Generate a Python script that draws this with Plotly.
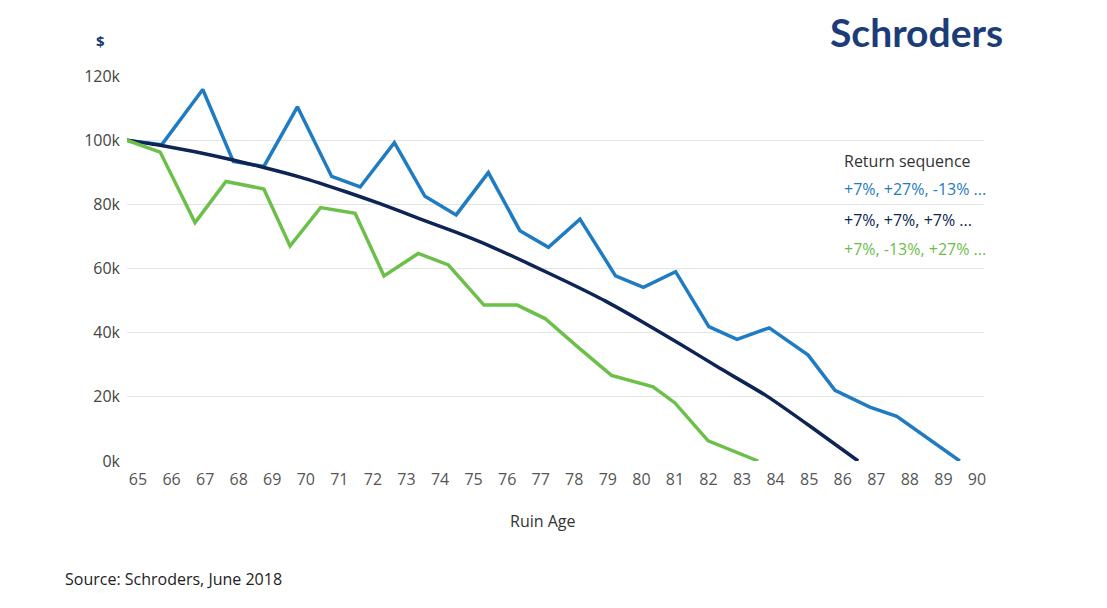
import plotly.graph_objects as go

# values in thousands of dollars, ages
blue_age = [64.66, 65.71, 66.93, 67.84, 68.75, 69.75, 70.77, 71.62, 72.64, 73.55, 74.48, 75.44, 76.38,
            77.23, 78.17, 79.23, 80.06, 81.02, 82.01, 82.85, 83.81, 84.97, 85.77, 86.81, 87.61, 89.49]
blue_val = [100, 98.6, 115.8, 93.4, 91.8, 110.4, 88.7, 85.4, 99.2, 82.5, 76.7, 89.9, 71.8,
            66.6, 75.4, 57.7, 54.1, 59.0, 41.9, 37.9, 41.5, 33.0, 22.0, 16.8, 13.9, 0]

navy_age = [64.66, 65.66, 66.70, 67.83, 68.75, 69.83, 71.17, 72.21, 73.40, 74.45, 75.49, 76.68,
            77.87, 78.92, 79.96, 81.15, 82.34, 83.73, 85.06, 86.46]
navy_val = [100, 98.4, 96.4, 93.8, 91.5, 88.5, 84.0, 80.2, 75.5, 71.4, 67.0, 61.3,
            55.4, 49.9, 43.8, 36.5, 28.9, 20.3, 10.6, 0]

green_age = [64.66, 65.66, 66.70, 67.62, 68.75, 69.53, 70.44, 71.47, 72.33, 73.35, 74.25, 75.31,
             76.30, 77.13, 78.11, 79.11, 80.35, 81.00, 81.99, 83.48]
green_val = [100, 96.3, 74.3, 87.1, 84.8, 67.0, 79.0, 77.2, 57.7, 64.7, 61.1, 48.6,
             48.6, 44.4, 35.5, 26.7, 23.1, 18.1, 6.3, 0]

x_ticks = list(range(65, 91))
y_ticks = [0, 20, 40, 60, 80, 100, 120]
y_labels = ['%dk' % v for v in y_ticks]

series = [
    ('+7%, +27%, -13% ...', blue_age, blue_val, '#1f7bc2', 'linear'),
    ('+7%, +7%, +7% ...', navy_age, navy_val, '#0d2454', 'spline'),
    ('+7%, -13%, +27% ...', green_age, green_val, '#6cc04a', 'linear'),
]

FONT = 'Open Sans'

fig = go.Figure()
for name, xs, ys, col, shp in series:
    fig.add_trace(go.Scatter(x=xs, y=ys, mode='lines', name=name,
                             line=dict(color=col, width=3.5, shape=shp, smoothing=0.5)))

# page body adds 8px, so margins are shifted back by that
fig.update_layout(
    width=1107, height=608,
    margin=dict(l=119, r=131, t=68, b=155),
    plot_bgcolor='white', paper_bgcolor='white',
    showlegend=False,
    font=dict(family=FONT, size=16, color='#444'),
)
fig.update_xaxes(range=[64.672, 90.21], tickvals=x_ticks, showgrid=False, zeroline=False,
                 showline=False, ticks='', ticklabelstandoff=7,
                 tickfont=dict(size=16, color='#555'))
fig.update_yaxes(range=[0, 120], tickvals=y_ticks, ticktext=y_labels, showgrid=True,
                 gridcolor='#e4e4e4', gridwidth=1, zeroline=False, showline=False, ticks='',
                 ticklabelstandoff=6, tickfont=dict(size=16, color='#444'))

ann = [
    dict(text='<b>$</b>', x=-0.0315, y=1.091, font=dict(size=15, color='#1b3c78')),
    dict(text='Ruin Age', x=0.485, y=-0.156, font=dict(size=16, color='#333')),
    dict(text='<b>Schroders</b>', x=0.9207, y=1.114, font=dict(family='Lato', size=39, color='#1b3c78')),
]
for a in ann:
    fig.add_annotation(xref='paper', yref='paper', showarrow=False,
                       xanchor='center', yanchor='middle', **a)

fig.add_annotation(text='Return sequence', xref='paper', yref='paper', x=0.834, y=0.779,
                   xanchor='left', yanchor='middle', showarrow=False,
                   font=dict(size=16, color='#333'))
leg_y = [0.7065, 0.626, 0.551]
for (name, xs, ys, col, shp), ly in zip(series, leg_y):
    fig.add_annotation(text=name, xref='paper', yref='paper', x=0.834, y=ly, xanchor='left',
                       yanchor='middle', showarrow=False, font=dict(size=16, color=col))

fig.add_annotation(text='Source: Schroders, June 2018', xref='paper', yref='paper',
                   x=(63 - 127) / 857, y=(460 - 578) / 385, xanchor='left', yanchor='middle',
                   showarrow=False, font=dict(size=16, color='#222'))

fig.write_html("out.html")
